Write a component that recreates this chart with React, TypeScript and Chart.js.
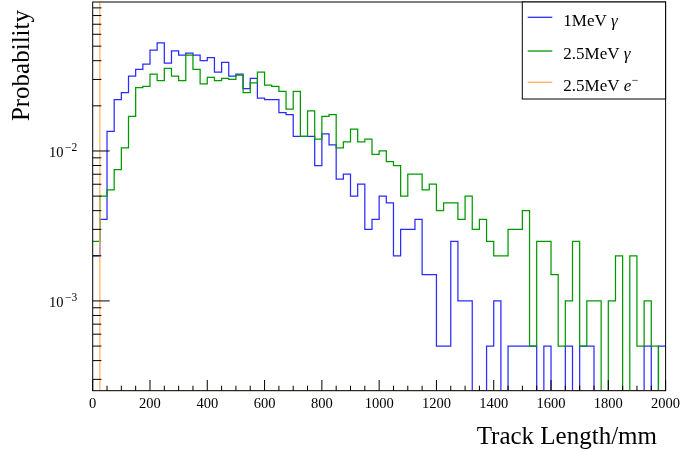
import { useEffect, useRef } from 'react';
import { Chart, registerables } from 'chart.js';

Chart.register(...registerables);

// ---------- data ----------
const BIN_WIDTH = 25; // mm per bin
const X_MIN = 0;
const X_MAX = 2000;
const Y_MIN = 2.52e-4;
const Y_MAX = 0.0985;

const X_TICK_LABELS = ['0', '200', '400', '600', '800', '1000', '1200', '1400', '1600', '1800', '2000'];
const X_MAJOR_STEP = 200;
const X_MINOR_STEP = 50;
const Y_TICK_LABELS = [
  { value: 1e-2, base: '10', exp: '\u22122' },
  { value: 1e-3, base: '10', exp: '\u22123' },
];

const SERIES_NAMES = ['1MeV', '2.5MeV', '2.5MeV'];
const SERIES_SYMBOLS = ['\u03B3', '\u03B3', 'e'];

// probability per 25 mm bin, 0-2000 mm
const P_1MEV_GAMMA = [
  0.002, 0.0035, 0.0135, 0.022, 0.0245, 0.0315, 0.035, 0.038, 0.047, 0.0525,
  0.0385, 0.0465, 0.0435, 0.045, 0.0435, 0.04, 0.042, 0.0335, 0.039, 0.0315,
  0.0325, 0.026, 0.0305, 0.0225, 0.022, 0.022, 0.018, 0.0175, 0.0125, 0.0125,
  0.0125, 0.008, 0.013, 0.011, 0.0065, 0.007, 0.005, 0.006, 0.003, 0.0035,
  0.005, 0.0045, 0.002, 0.003, 0.003, 0.0035, 0.0015, 0.0015, 0.0005, 0.0005,
  0.0025, 0.001, 0.001, 0, 0, 0.0005, 0.001, 0, 0.0005, 0.0005,
  0.0005, 0.0005, 0, 0.0005, 0, 0, 0.0005, 0, 0.0005, 0.0005,
  0, 0, 0, 0, 0, 0, 0, 0.0005, 0, 0.0005,
];

const P_25MEV_GAMMA = [
  0.0025, 0.005, 0.0055, 0.0075, 0.0105, 0.017, 0.0265, 0.027, 0.0325, 0.0295,
  0.0355, 0.0315, 0.0295, 0.0435, 0.035, 0.028, 0.031, 0.0295, 0.0305, 0.03,
  0.032, 0.0245, 0.0285, 0.0335, 0.0275, 0.027, 0.025, 0.019, 0.025, 0.0125,
  0.0185, 0.012, 0.017, 0.0175, 0.0105, 0.0115, 0.014, 0.0115, 0.012, 0.0095,
  0.01, 0.0085, 0.008, 0.005, 0.007, 0.007, 0.0055, 0.006, 0.004, 0.0045,
  0.0045, 0.0035, 0.005, 0.003, 0.0035, 0.0025, 0.002, 0.002, 0.003, 0.003,
  0.004, 0.0005, 0.0025, 0.0025, 0.0015, 0.0005, 0.001, 0.0025, 0.0005, 0.001,
  0.001, 0, 0.001, 0.002, 0, 0.002, 0.0005, 0.001, 0.0005, 0,
];

const P_25MEV_ELECTRON = [
  1, 0, 0, 0, 0, 0, 0, 0, 0, 0, 0, 0, 0, 0, 0, 0, 0, 0, 0, 0,
  0, 0, 0, 0, 0, 0, 0, 0, 0, 0, 0, 0, 0, 0, 0, 0, 0, 0, 0, 0,
  0, 0, 0, 0, 0, 0, 0, 0, 0, 0, 0, 0, 0, 0, 0, 0, 0, 0, 0, 0,
  0, 0, 0, 0, 0, 0, 0, 0, 0, 0, 0, 0, 0, 0, 0, 0, 0, 0, 0, 0,
];

const COLORS = ['#2b2bff', '#009a00', '#ffb060'];

// ---------- helpers ----------
// empty bins are drawn on the axis floor, as a log-scale histogram does
const toSteps = (values: number[]) => {
  const pts = values.map((v, i) => ({ x: i * BIN_WIDTH, y: v > 0 ? v : Y_MIN }));
  const last = values[values.length - 1];
  pts.push({ x: values.length * BIN_WIDTH, y: last > 0 ? last : Y_MIN });
  return pts;
};

const FONT = '"Liberation Serif", "Times New Roman", serif';

const framePlugin = {
  id: 'rootFrame',
  afterDraw(chart: any) {
    const { ctx, chartArea: a, scales } = chart;
    const xs = scales.x;
    const ys = scales.y;
    ctx.save();
    ctx.strokeStyle = '#000';
    ctx.fillStyle = '#000';
    ctx.lineWidth = 1;
    const line = (x1: number, y1: number, x2: number, y2: number) => {
      ctx.beginPath();
      ctx.moveTo(x1, y1);
      ctx.lineTo(x2, y2);
      ctx.stroke();
    };
    // frame
    ctx.strokeRect(a.left, a.top, a.right - a.left, a.bottom - a.top);

    // y ticks (inside)
    for (let d = -4; d <= -1; d++) {
      for (let m = 1; m <= 9; m++) {
        const v = m * Math.pow(10, d);
        if (v < Y_MIN || v > Y_MAX) continue;
        const py = ys.getPixelForValue(v);
        line(a.left, py, a.left + (m === 1 ? 17 : 8.7), py);
      }
    }
    // y labels
    Y_TICK_LABELS.forEach((t) => {
      const py = ys.getPixelForValue(t.value);
      ctx.font = `14.5px ${FONT}`;
      ctx.textAlign = 'right';
      ctx.textBaseline = 'alphabetic';
      ctx.fillText(t.base, 63.5, py + 5.7);
      ctx.font = `11.5px ${FONT}`;
      ctx.textAlign = 'left';
      ctx.fillText(t.exp, 65, py + 0.5);
    });

    // x ticks (inside)
    for (let v = X_MIN; v <= X_MAX; v += X_MINOR_STEP) {
      const px = xs.getPixelForValue(v);
      line(px, a.bottom, px, a.bottom - (v % X_MAJOR_STEP === 0 ? 10.7 : 5));
    }
    ctx.font = `14.5px ${FONT}`;
    ctx.textAlign = 'center';
    X_TICK_LABELS.forEach((lab, i) => {
      const px = xs.getPixelForValue(X_MIN + i * X_MAJOR_STEP);
      ctx.fillText(lab, px, 408.3);
    });

    // axis titles
    ctx.font = `25px ${FONT}`;
    ctx.textAlign = 'right';
    ctx.fillText('Track Length/mm', 657, 444.3);
    ctx.save();
    ctx.translate(28.5, 10);
    ctx.rotate(-Math.PI / 2);
    ctx.textAlign = 'right';
    ctx.fillText('Probability', 0, 0);
    ctx.restore();

    // legend
    const lx1 = 522.3;
    const lx2 = a.right;
    const ly1 = a.top;
    const ly2 = 99;
    ctx.fillStyle = '#fff';
    ctx.fillRect(lx1, ly1, lx2 - lx1, ly2 - ly1);
    ctx.strokeStyle = '#000';
    ctx.lineWidth = 1;
    ctx.strokeRect(lx1, ly1, lx2 - lx1, ly2 - ly1);
    const lineYs = [17.3, 51, 82.3];
    const baseYs = [26, 59.3, 90.7];
    SERIES_NAMES.forEach((name, i) => {
      ctx.strokeStyle = COLORS[i];
      ctx.lineWidth = 1.3;
      line(527.7, lineYs[i], 552.3, lineYs[i]);
      ctx.fillStyle = '#000';
      ctx.textAlign = 'left';
      ctx.font = `17px ${FONT}`;
      const t = name + ' ';
      ctx.fillText(t, 563.3, baseYs[i]);
      let x = 563.3 + ctx.measureText(t).width;
      ctx.font = `italic 17px ${FONT}`;
      ctx.fillText(SERIES_SYMBOLS[i], x, baseYs[i]);
      x += ctx.measureText(SERIES_SYMBOLS[i]).width;
      if (SERIES_SYMBOLS[i] === 'e') {
        ctx.font = `12px ${FONT}`;
        ctx.fillText('\u2212', x + 0.5, baseYs[i] - 7);
      }
    });
    ctx.restore();
  },
};

export default function App() {
  const ref = useRef<HTMLCanvasElement | null>(null);

  useEffect(() => {
    document.body.style.margin = '0';
    const canvas = ref.current;
    if (!canvas) return;
    const series = [P_1MEV_GAMMA, P_25MEV_GAMMA, P_25MEV_ELECTRON];
    const chart = new Chart(canvas, {
      type: 'line',
      data: {
        datasets: series.map((vals, i) => ({
          label: SERIES_NAMES[i] + ' ' + SERIES_SYMBOLS[i],
          data: toSteps(vals),
          borderColor: COLORS[i],
          backgroundColor: COLORS[i],
          borderWidth: 1.25,
          stepped: true,
          pointRadius: 0,
          fill: false,
          tension: 0,
          order: 3 - i,
        })),
      },
      options: {
        animation: false,
        responsive: false,
        maintainAspectRatio: false,
        events: [],
        layout: { padding: { left: 92.7, right: 15.4, top: 2, bottom: 61.3 } },
        scales: {
          x: { type: 'linear', min: X_MIN, max: X_MAX, display: false },
          y: { type: 'logarithmic', min: Y_MIN, max: Y_MAX, display: false },
        },
        plugins: {
          legend: { display: false },
          tooltip: { enabled: false },
        },
      },
      plugins: [framePlugin],
    } as any);
    return () => chart.destroy();
  }, []);

  return (
    <div style={{ position: 'fixed', left: 0, top: 0, width: 681, height: 452, background: '#fff' }}>
      <canvas ref={ref} width={681} height={452} style={{ display: 'block', width: 681, height: 452 }} />
    </div>
  );
}
